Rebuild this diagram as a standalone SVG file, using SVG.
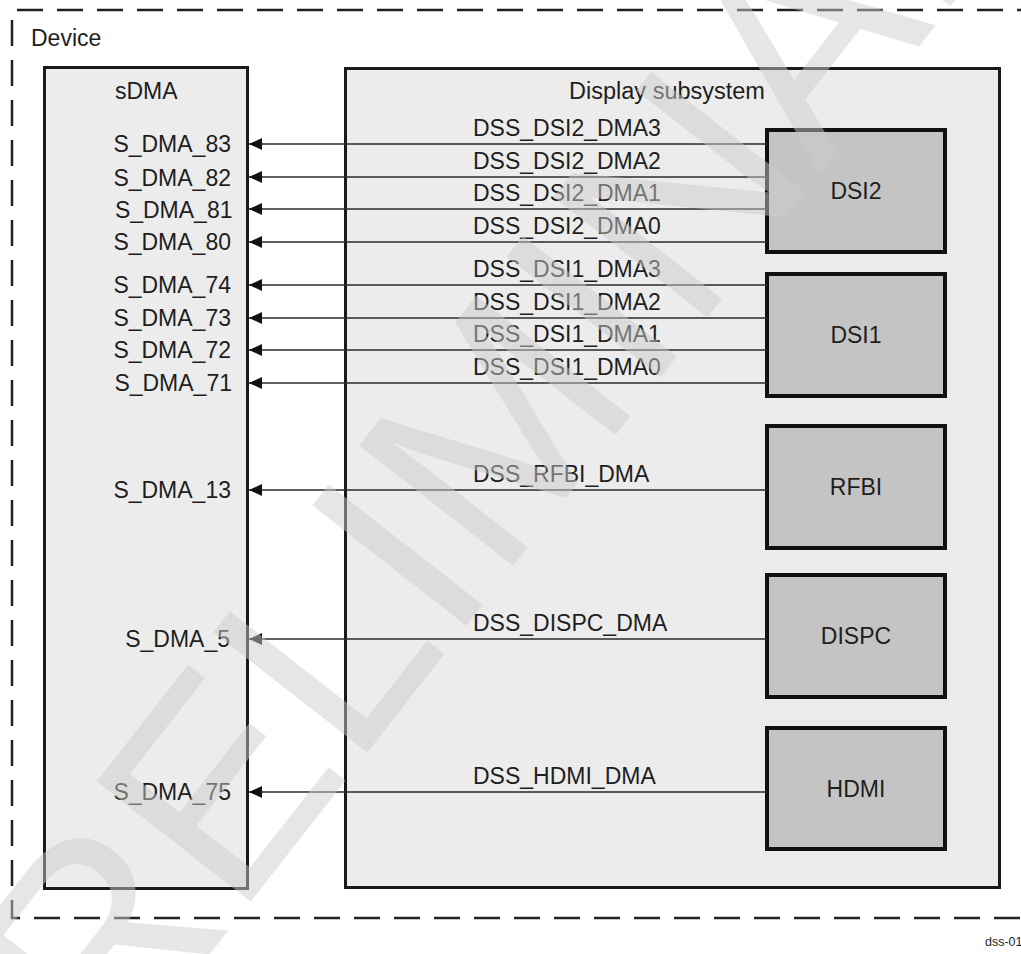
<svg xmlns="http://www.w3.org/2000/svg" width="1021" height="954" viewBox="0 0 1021 954">
<style>
  text { font-family: "Liberation Sans", Arial, sans-serif; fill: #1e1e1e; font-size: 23px; }
  .lbl { text-anchor: end; }
  .mid { text-anchor: middle; }
  .outer { fill: #ececec; stroke: #1a1a1a; stroke-width: 3; }
  .blk { fill: #c4c4c4; stroke: #111; stroke-width: 4; }
  .dash { fill: none; stroke: #222; stroke-width: 2.5; stroke-dasharray: 26 14; }
  .wire { stroke: #2a2a2a; stroke-width: 1.3; fill: none; marker-end: url(#arr); }
  .wm { font-size: 284px; fill: #cccccc; fill-opacity: 0.49; }
</style>
<defs>
  <marker id="arr" markerUnits="userSpaceOnUse" markerWidth="13" markerHeight="12" refX="13" refY="6" orient="auto">
    <path d="M0,0 L13,6 L0,12 z" fill="#111"/>
  </marker>
</defs>
<rect width="1021" height="954" fill="#fff"/>

<g id="device">
  <path class="dash" d="M17,10 H1021"/>
  <path class="dash" d="M12,20 V918 H1021"/>
  <text x="31" y="46">Device</text>
</g>

<g id="sdma">
  <rect class="outer" x="44.5" y="67.5" width="203" height="821"/>
  <text x="115" y="99">sDMA</text>
  <text class="lbl" x="231" y="152">S_DMA_83</text>
  <text class="lbl" x="231" y="186">S_DMA_82</text>
  <text class="lbl" x="232.5" y="218">S_DMA_81</text>
  <text class="lbl" x="231" y="250">S_DMA_80</text>
  <text class="lbl" x="231" y="293">S_DMA_74</text>
  <text class="lbl" x="231" y="326">S_DMA_73</text>
  <text class="lbl" x="231" y="358">S_DMA_72</text>
  <text class="lbl" x="232" y="391">S_DMA_71</text>
  <text class="lbl" x="231" y="498">S_DMA_13</text>
  <text class="lbl" x="230" y="647">S_DMA_5</text>
  <text class="lbl" x="231" y="800">S_DMA_75</text>
</g>

<g id="dss">
  <rect class="outer" x="345.5" y="68.5" width="654" height="819"/>
  <text class="mid" x="667" y="99" style="font-size:23.5px">Display subsystem</text>
</g>

<g id="dsi2">
  <rect class="blk" x="767" y="130" width="178" height="122"/>
  <text class="mid" x="856" y="199">DSI2</text>
</g>
<g id="dsi1">
  <rect class="blk" x="767" y="274" width="178" height="122"/>
  <text class="mid" x="856" y="343">DSI1</text>
</g>
<g id="rfbi">
  <rect class="blk" x="767" y="426" width="178" height="122"/>
  <text class="mid" x="856" y="495">RFBI</text>
</g>
<g id="dispc">
  <rect class="blk" x="767" y="575" width="178" height="122"/>
  <text class="mid" x="856" y="644">DISPC</text>
</g>
<g id="hdmi">
  <rect class="blk" x="767" y="728" width="178" height="121"/>
  <text class="mid" x="856" y="797">HDMI</text>
</g>

<g id="connectors">
  <path class="wire" d="M767,144 H249"/>
  <path class="wire" d="M767,177 H249"/>
  <path class="wire" d="M767,209 H249"/>
  <path class="wire" d="M767,242 H249"/>
  <path class="wire" d="M767,285 H249"/>
  <path class="wire" d="M767,318 H249"/>
  <path class="wire" d="M767,350 H249"/>
  <path class="wire" d="M767,383 H249"/>
  <path class="wire" d="M767,490 H249"/>
  <path class="wire" d="M767,639 H249"/>
  <path class="wire" d="M767,792 H249"/>
  <text x="473" y="136">DSS_DSI2_DMA3</text>
  <text x="473" y="169">DSS_DSI2_DMA2</text>
  <text x="473" y="201">DSS_DSI2_DMA1</text>
  <text x="473" y="234">DSS_DSI2_DMA0</text>
  <text x="473" y="277">DSS_DSI1_DMA3</text>
  <text x="473" y="310">DSS_DSI1_DMA2</text>
  <text x="473" y="342">DSS_DSI1_DMA1</text>
  <text x="473" y="375">DSS_DSI1_DMA0</text>
  <text x="473" y="482">DSS_RFBI_DMA</text>
  <text x="473" y="631">DSS_DISPC_DMA</text>
  <text x="473" y="784">DSS_HDMI_DMA</text>
</g>

<text x="985" y="946" style="font-size:12.5px">dss-01</text>

<g id="watermark">
  <text class="wm" transform="translate(-6.5,1231) rotate(-52)">PRELIMINARY</text>
</g>
</svg>
